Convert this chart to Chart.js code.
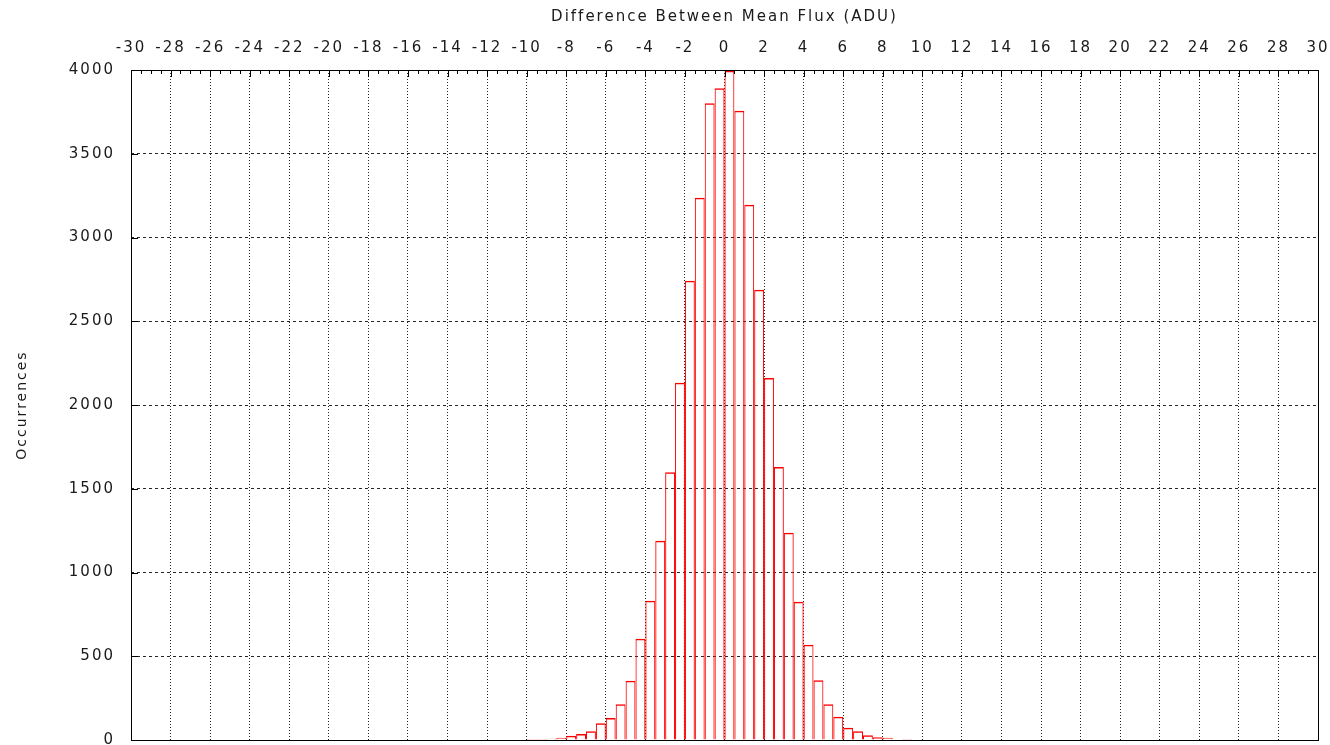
<!DOCTYPE html>
<html>
<head>
<meta charset="utf-8">
<title>Difference Between Mean Flux</title>
<script src="https://cdn.jsdelivr.net/npm/chart.js@4.4.1/dist/chart.umd.min.js"></script>
<style>
    html, body {
        margin: 0;
        padding: 0;
        background: #ffffff;
    }

    #wrap {
        width: 1330px;
        height: 745px;
    }
</style>
</head>
<body>
<div id="wrap">
    <canvas id="histChart"></canvas>
</div>

<script>
// histogram bins, 0.5 ADU wide (centre of each bin)
const binCenters = [
    -10.75, -10.25, -9.75, -9.25, -8.75, -8.25, -7.75, -7.25, -6.75, -6.25,
    -5.75, -5.25, -4.75, -4.25, -3.75, -3.25, -2.75, -2.25, -1.75, -1.25,
    -0.75, -0.25, 0.25, 0.75, 1.25, 1.75, 2.25, 2.75, 3.25, 3.75,
    4.25, 4.75, 5.25, 5.75, 6.25, 6.75, 7.25, 7.75, 8.25, 8.75,
    9.25
];

const occurrences = [
    5, 0, 6, 6, 8, 14, 26, 36, 52, 100,
    131, 213, 354, 605, 832, 1190, 1598, 2133, 2742, 3238,
    3801, 3891, 3995, 3757, 3196, 2688, 2161, 1630, 1238, 826,
    569, 356, 213, 139, 73, 52, 28, 16, 14, 0,
    6
];

const xMin = -30;
const xMax = 30;
const xStep = 2;
const xMinorStep = 0.5;

const yMin = 0;
const yMax = 4000;
const yStep = 500;

const xTitle = "Difference Between Mean Flux (ADU)";
const yTitle = "Occurrences";

const FONT = "'DejaVu Sans', 'Liberation Sans', sans-serif";
const TEXT_COLOR = "#1a1a1a";
const LETTER_SPACING = "2px";

// wide, gnuplot-ish lettering (canvas state is reset on resize, so set it each pass)
const spacingPlugin = {
    id: "spacing",
    beforeLayout(chart) {
        chart.ctx.letterSpacing = LETTER_SPACING;
    },
    beforeDraw(chart) {
        chart.ctx.letterSpacing = LETTER_SPACING;
    }
};

// frame with inward ticks (minor ticks on the top axis)
const framePlugin = {
    id: "frame",
    afterDatasetsDraw(chart) {
        const ctx = chart.ctx;
        const area = chart.chartArea;
        const xs = chart.scales.x;
        const ys = chart.scales.y;

        ctx.save();
        ctx.strokeStyle = "#000000";
        ctx.lineWidth = 1;

        ctx.beginPath();

        for (let v = xMin; v <= xMax + 1e-9; v += xMinorStep) {
            const px = Math.round(xs.getPixelForValue(v)) + 0.5;
            const major = Math.abs(v / xStep - Math.round(v / xStep)) < 1e-6;
            const len = major ? 7 : 4;
            ctx.moveTo(px, area.top);
            ctx.lineTo(px, area.top + len);
        }

        for (let v = yMin; v <= yMax; v += yStep) {
            const py = Math.round(ys.getPixelForValue(v)) + 0.5;
            ctx.moveTo(area.left, py);
            ctx.lineTo(area.left + 7, py);
        }

        ctx.stroke();

        ctx.strokeRect(
            Math.round(area.left) + 0.5,
            Math.round(area.top) + 0.5,
            Math.round(area.right - area.left),
            Math.round(area.bottom - area.top)
        );

        ctx.restore();
    }
};

const ctx = document.getElementById("histChart");

new Chart(ctx, {

    type: "bar",

    data: {
        datasets: [{
            label: yTitle,
            data: binCenters.map((x, i) => ({ x: x, y: occurrences[i] })),
            backgroundColor: "rgba(0,0,0,0)",
            borderColor: "#ff0000",
            borderWidth: { top: 1.5, left: 1, right: 1, bottom: 0 },
            borderSkipped: false,
            inflateAmount: 0,
            barPercentage: 1,
            categoryPercentage: 1
        }]
    },

    options: {
        responsive: true,
        maintainAspectRatio: false,
        animation: false,
        devicePixelRatio: 1,

        layout: {
            padding: { left: 0, right: 12, top: 0, bottom: 5 }
        },

        plugins: {
            legend: { display: false },
            tooltip: { enabled: false }
        },

        scales: {

            x: {
                type: "linear",
                position: "top",
                min: xMin,
                max: xMax,
                offset: false,
                afterFit: scale => {
                    scale.height = 70;
                    scale.paddingLeft = 0;
                    scale.paddingRight = 0;
                },
                ticks: {
                    stepSize: xStep,
                    autoSkip: false,
                    maxRotation: 0,
                    padding: 13,
                    color: TEXT_COLOR,
                    font: { family: FONT, size: 15 },
                    callback: v => String(v)
                },
                grid: {
                    offset: false,
                    drawTicks: false,
                    color: "rgba(0,0,0,0.85)",
                    lineWidth: 1
                },
                border: {
                    display: false,
                    dash: [1, 2]
                },
                title: {
                    display: true,
                    text: xTitle,
                    color: TEXT_COLOR,
                    font: { family: FONT, size: 15 },
                    padding: { top: 8, bottom: 0 }
                }
            },

            y: {
                type: "linear",
                min: yMin,
                max: yMax,
                afterFit: scale => {
                    scale.width = 131;
                    scale.paddingTop = 0;
                    scale.paddingBottom = 0;
                },
                ticks: {
                    stepSize: yStep,
                    padding: 16,
                    color: TEXT_COLOR,
                    font: { family: FONT, size: 15 },
                    callback: v => String(v)
                },
                grid: {
                    drawTicks: false,
                    color: "rgba(0,0,0,0.85)",
                    lineWidth: 1
                },
                border: {
                    display: false,
                    dash: [3, 3]
                },
                title: {
                    display: true,
                    text: yTitle,
                    color: TEXT_COLOR,
                    font: { family: FONT, size: 14 },
                    padding: { top: 14, bottom: 0 }
                }
            }
        }
    },

    plugins: [spacingPlugin, framePlugin]
});
</script>
</body>
</html>
